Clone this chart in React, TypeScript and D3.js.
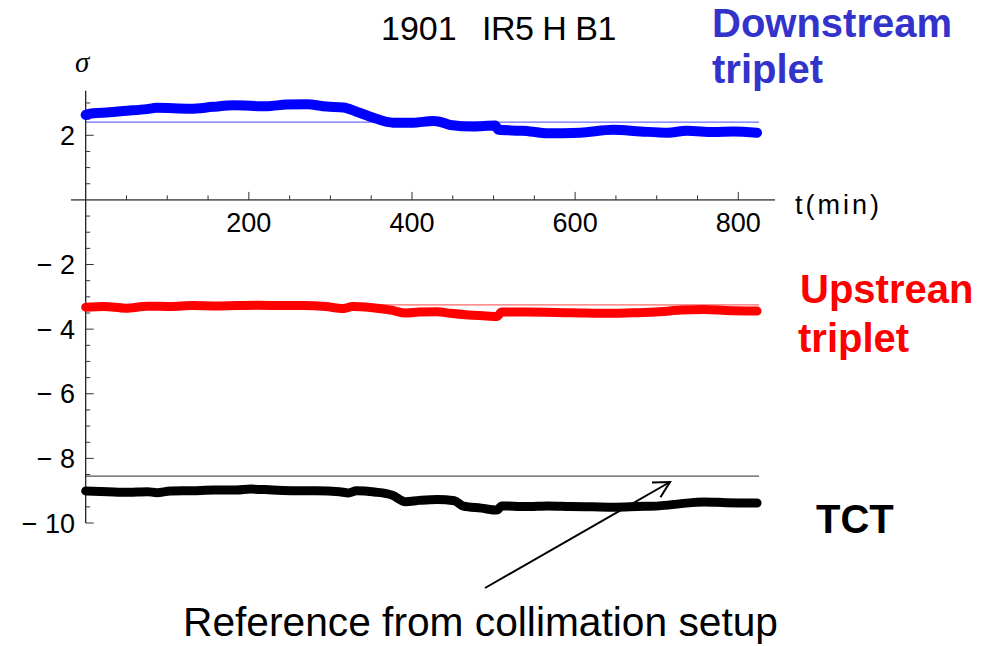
import React from "react";
import * as d3 from "d3";

// Time (min) and normalised BPM position (sigma) for each triplet / TCT
const downT = [0, 9, 29, 46, 75, 87, 128, 156, 181, 222, 246, 271, 295, 316, 332, 352, 377, 401, 426, 434, 447, 475, 502, 506, 533, 545, 565, 606, 647, 680, 713, 737, 770, 794, 823];
const downV = [2.63, 2.68, 2.71, 2.75, 2.81, 2.85, 2.82, 2.88, 2.93, 2.9, 2.95, 2.96, 2.89, 2.86, 2.73, 2.55, 2.39, 2.39, 2.44, 2.42, 2.32, 2.27, 2.3, 2.17, 2.14, 2.12, 2.06, 2.08, 2.17, 2.12, 2.08, 2.14, 2.1, 2.12, 2.08];

const upT = [0, 22, 49, 76, 104, 131, 158, 185, 213, 240, 267, 294, 316, 327, 349, 376, 392, 409, 431, 447, 469, 491, 504, 510, 540, 594, 649, 676, 703, 730, 758, 785, 823];
const upV = [-3.32, -3.3, -3.35, -3.29, -3.3, -3.27, -3.28, -3.27, -3.26, -3.27, -3.27, -3.3, -3.36, -3.3, -3.33, -3.42, -3.5, -3.47, -3.46, -3.51, -3.56, -3.59, -3.61, -3.47, -3.47, -3.49, -3.51, -3.49, -3.46, -3.41, -3.39, -3.42, -3.44];

const tctT = [0, 27, 49, 76, 87, 104, 131, 158, 185, 202, 229, 256, 283, 311, 322, 332, 354, 376, 392, 409, 431, 452, 463, 485, 504, 510, 540, 567, 594, 621, 649, 676, 703, 730, 758, 785, 823];
const tctV = [-9.01, -9.03, -9.05, -9.03, -9.06, -9.01, -9.0, -8.98, -8.98, -8.95, -8.98, -9.0, -9.0, -9.03, -9.07, -9.0, -9.04, -9.14, -9.34, -9.3, -9.27, -9.31, -9.48, -9.54, -9.6, -9.47, -9.49, -9.47, -9.49, -9.5, -9.51, -9.49, -9.47, -9.4, -9.35, -9.37, -9.38];

// Reference positions from the collimation setup
const refLabels = ["Downstream", "Upstream", "TCT"];
const refValues = [2.41, -3.25, -8.55];

const xTicks = [200, 400, 600, 800];
const yTicks = [2, -2, -4, -6, -8, -10];

const W = 991;
const H = 646;

const x = d3.scaleLinear().domain([-18, 845]).range([71, 775]);
const y = d3.scaleLinear().domain([-10, 3.38]).range([523, 90.7]);

const FONT = "'Liberation Sans', Arial, Helvetica, sans-serif";

type Pt = [number, number];
const zip = (t: number[], v: number[]): Pt[] => t.map((d, i) => [d, v[i]]);

const line = d3
  .line<Pt>()
  .x((d) => x(d[0]))
  .y((d) => y(d[1]))
  .curve(d3.curveMonotoneX);

const series = [
  { name: refLabels[0], data: zip(downT, downV), color: "#0000ff", ref: refValues[0], refColor: "#6a6aff", width: 10 },
  { name: refLabels[1], data: zip(upT, upV), color: "#ff0000", ref: refValues[1], refColor: "#ff6a6a", width: 9 },
  { name: refLabels[2], data: zip(tctT, tctV), color: "#000000", ref: refValues[2], refColor: "#555555", width: 9 },
];

const minorX = d3.range(50, 801, 50).filter((t) => t % 200 !== 0);
const minorY = d3.range(-10, 3.01, 0.5).filter((v) => v !== 0 && Math.abs(v) % 2 !== 0);

const fmtY = (v: number) => (v < 0 ? "\u2212 " + Math.abs(v) : String(v));

export default function App() {
  const tEnd = d3.max(downT) as number;
  // arrow pointing at the TCT reference line
  const tail: Pt = [485, 588];
  const tip: Pt = [670, 482];
  const ang = Math.atan2(tail[1] - tip[1], tail[0] - tip[0]);
  const hl = 18;
  const h1: Pt = [tip[0] + hl * Math.cos(ang + 0.49), tip[1] + hl * Math.sin(ang + 0.49)];
  const h2: Pt = [tip[0] + hl * Math.cos(ang - 0.49), tip[1] + hl * Math.sin(ang - 0.49)];

  return (
    <svg
      width={W}
      height={H}
      viewBox={`0 0 ${W} ${H}`}
      style={{ position: "absolute", left: 0, top: 0, background: "#fff" }}
    >
      <rect width={W} height={H} fill="#fff" />

      {/* reference lines */}
      {series.map((s) => (
        <line
          key={"ref-" + s.name}
          x1={x(0)}
          x2={x(tEnd) + 2}
          y1={y(s.ref)}
          y2={y(s.ref)}
          stroke={s.refColor}
          strokeWidth={1.3}
        />
      ))}

      {/* x axis */}
      <line x1={x.range()[0]} x2={x.range()[1]} y1={y(0)} y2={y(0)} stroke="#666" strokeWidth={1.6} />
      {minorX.map((t) => (
        <line key={"mx" + t} x1={x(t)} x2={x(t)} y1={y(0)} y2={y(0) - 4.5} stroke="#333" strokeWidth={1} />
      ))}
      {xTicks.map((t) => (
        <g key={"xt" + t}>
          <line x1={x(t)} x2={x(t)} y1={y(0)} y2={y(0) - 8} stroke="#333" strokeWidth={1} />
          <text x={x(t)} y={232} textAnchor="middle" fontFamily={FONT} fontSize={27} fill="#000">
            {t}
          </text>
        </g>
      ))}
      <text x={795} y={214} fontFamily={FONT} fontSize={27} letterSpacing={3} fill="#000">
        t(min)
      </text>

      {/* y axis */}
      <line x1={x(0)} x2={x(0)} y1={y.range()[1]} y2={y.range()[0]} stroke="#222" strokeWidth={1.3} />
      {minorY.map((v) => (
        <line key={"my" + v} x1={x(0)} x2={x(0) + 4.5} y1={y(v)} y2={y(v)} stroke="#333" strokeWidth={1} />
      ))}
      {yTicks.map((v) => (
        <g key={"yt" + v}>
          <line x1={x(0)} x2={x(0) + 8} y1={y(v)} y2={y(v)} stroke="#333" strokeWidth={1} />
          <text
            x={75}
            y={y(v)}
            dy="0.36em"
            textAnchor="end"
            fontFamily={FONT}
            fontSize={27}
            fill="#000"
            xmlSpace="preserve"
          >
            {fmtY(v)}
          </text>
        </g>
      ))}
      <text x={75} y={72} fontFamily="'Liberation Serif', 'DejaVu Serif', serif" fontStyle="italic" fontSize={29} fill="#000">
        σ
      </text>

      {/* measured orbit */}
      {series.map((s) => (
        <path
          key={"s-" + s.name}
          d={line(s.data) || ""}
          fill="none"
          stroke={s.color}
          strokeWidth={s.width}
          strokeLinecap="round"
          strokeLinejoin="round"
        />
      ))}

      {/* titles and labels */}
      <text x={381} y={40} fontFamily={FONT} fontSize={34} fill="#000">
        1901
      </text>
      <text x={482} y={40} fontFamily={FONT} fontSize={34} fill="#000" letterSpacing={-0.5}>
        IR5 H B1
      </text>

      <text x={712} y={37} fontFamily={FONT} fontWeight="bold" fontSize={40} fill="#3333cc">
        Downstream
      </text>
      <text x={712} y={83} fontFamily={FONT} fontWeight="bold" fontSize={40} fill="#3333cc">
        triplet
      </text>

      <text x={800} y={303} fontFamily={FONT} fontWeight="bold" fontSize={40} fill="#ff0000">
        Upstrean
      </text>
      <text x={798} y={352} fontFamily={FONT} fontWeight="bold" fontSize={40} fill="#ff0000">
        triplet
      </text>

      <text x={816} y={533} fontFamily={FONT} fontWeight="bold" fontSize={40} fill="#000">
        TCT
      </text>

      <line x1={tail[0]} y1={tail[1]} x2={tip[0]} y2={tip[1]} stroke="#000" strokeWidth={2} />
      <polyline
        points={`${h1[0]},${h1[1]} ${tip[0]},${tip[1]} ${h2[0]},${h2[1]}`}
        fill="none"
        stroke="#000"
        strokeWidth={2}
      />

      <text x={183} y={636} fontFamily={FONT} fontSize={40} textLength={595} lengthAdjust="spacingAndGlyphs" fill="#000">
        Reference from collimation setup
      </text>
    </svg>
  );
}
